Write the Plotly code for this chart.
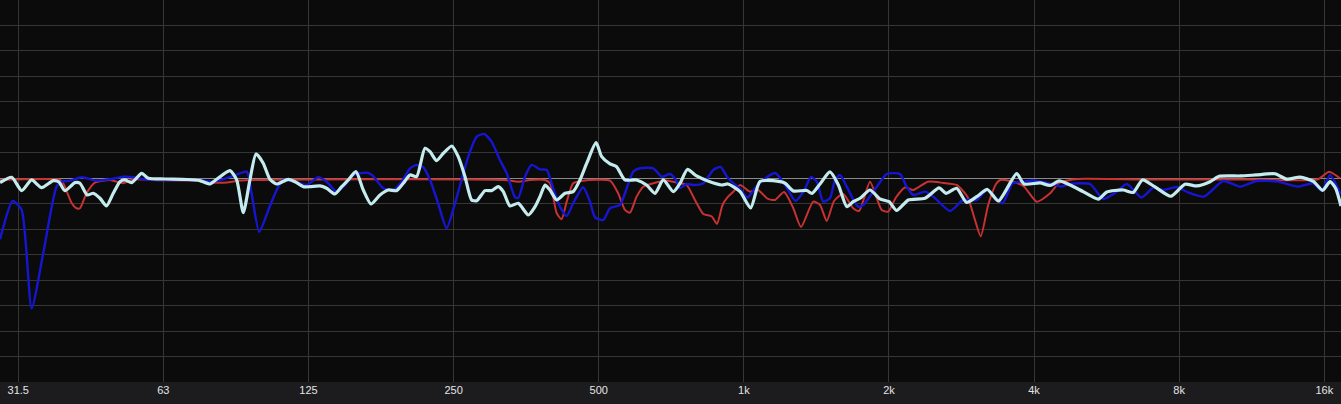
import plotly.graph_objects as go
import math

# ---- axis ticks ----
TICK_FREQS = [31.25, 62.5, 125, 250, 500, 1000, 2000, 4000, 8000, 16000]
TICK_LABELS = ["31.5", "63", "125", "250", "500", "1k", "2k", "4k", "8k", "16k"]

# ---- red series ----
RED_FREQ = [28.65, 38.14, 38.74, 40.33, 41.28, 41.96, 43.30, 45.06, 48.43, 51.60, 54.13, 58.63,
            74.41, 79.25, 84.68, 90.09, 319.6, 340.5, 360.0, 386.9, 396.1, 409.1, 418.8, 429.1,
            442.5, 464.2, 527.7, 548.6, 566.8, 580.6, 599.2, 618.6, 648.9, 691.5, 725.4, 760.9,
            791.9, 824.0, 857.9, 879.4, 903.3, 926.6, 951.0, 982.2, 1030, 1070, 1122, 1161,
            1212, 1266, 1314, 1393, 1439, 1486, 1539, 1607, 1686, 1734, 1827, 1887, 1932, 1993,
            2068, 2159, 2247, 2409, 2593, 2764, 2910, 3017, 3101, 3213, 3335, 3401, 3567, 3801,
            4052, 4318, 4508, 4751, 5058, 6960, 11226, 15523, 16371, 17249]
RED_DB = [-0.33, -0.33, -0.98, -4.85, -5.89, -5.89, -2.95, -0.86, -0.33, -0.98, -0.20, -0.33,
          -0.47, -0.82, -0.82, -0.43, -0.33, -0.67, -0.33, -0.33, -0.98, -6.87, -8.05, -4.59,
          -0.98, -0.47, -0.47, -2.95, -6.22, -6.75, -3.61, -1.65, -0.98, -0.43, -0.86, -1.32,
          -4.26, -7.01, -7.50, -8.96, -5.24, -3.67, -2.63, -1.32, -2.63, -2.30, -4.06, -4.26,
          -2.69, -5.83, -9.56, -4.59, -5.24, -8.38, -4.46, -3.08, -5.89, -6.42, -0.67, -3.93,
          -6.22, -6.56, -3.77, -1.81, -2.30, -0.67, -0.92, -1.32, -3.61, -8.19, -11.39, -5.24,
          -1.12, -0.33, -0.53, -1.51, -4.59, -2.95, -0.92, -0.33, -0.10, -0.24, -0.24, -0.20,
          1.30, 0.0]

# ---- blue series ----
BLUE_FREQ = [28.65, 30.43, 31.76, 33.31, 35.21, 37.52, 38.45, 40.01, 42.30, 45.42, 48.43, 51.60,
             54.13, 56.78, 64.48, 74.41, 79.25, 87.19, 93.05, 95.24, 98.80, 103.97, 107.4, 110.7,
             117.2, 123.9, 131.0, 136.3, 142.9, 148.8, 154.8, 165.0, 169.3, 178.7, 187.4, 195.1,
             203.0, 209.5, 216.0, 223.4, 232.2, 241.8, 251.7, 261.9, 270.3, 279.2, 289.1, 299.7,
             311.9, 322.2, 335.2, 340.5, 351.6, 362.9, 377.7, 390.0, 402.2, 415.5, 429.1, 442.5,
             464.2, 479.6, 491.3, 511.0, 527.7, 553.6, 566.8, 589.8, 609.1, 648.9, 675.6, 702.9,
             723.0, 737.4, 760.9, 785.6, 824.0, 864.3, 894.8, 926.6, 982.2, 1018, 1055, 1097,
             1161, 1215, 1280, 1333, 1378, 1417, 1461, 1509, 1546, 1583, 1635, 1726, 1769, 1887,
             1979, 2109, 2176, 2247, 2376, 2472, 2678, 2853, 3041, 3194, 3441, 3610, 3801, 3987,
             4282, 4564, 4751, 5225, 5565, 5891, 6229, 6682, 7067, 7413, 7909, 8348, 9009, 9879,
             10702, 11585, 12822, 14109, 15188, 15811, 16445, 17290]
BLUE_DB = [-11.98, -4.46, -6.22, -25.53, -14.73, -1.65, -0.67, -0.47, 0.20, -0.47, -0.20, 0.31,
           0.20, -0.20, -0.33, -0.39, -0.67, 0.45, 1.30, -2.95, -10.49, -5.44, -2.30, -0.33,
           -0.67, -1.32, 0.20, -0.67, -2.63, -1.32, 0.65, 1.10, 0.65, -1.96, -2.30, -0.67,
           1.96, 2.61, 2.22, -0.33, -4.91, -9.82, -4.91, 0.98, 5.22, 8.17, 8.70, 7.19,
           3.59, 0.98, -3.73, -3.87, 0.31, 2.61, 1.73, 1.63, -1.96, -5.58, -7.40, -4.91,
           -1.77, -4.59, -7.66, -8.19, -5.89, -5.24, -2.95, 1.30, 1.96, 1.96, 0.31, 0.84,
           -0.33, -1.90, -1.12, -1.32, -0.98, 1.63, 2.22, 0.06, -2.10, -3.77, -1.96, -0.33,
           1.04, -1.12, -4.46, -2.49, 0.26, -0.67, -4.59, -3.93, -0.33, 0.65, -1.65, -5.58, -5.24, -1.65,
           0.84, 0.84, -1.65, -3.28, -2.63, -3.61, -6.42, -4.26, -4.26, -2.30, -4.91, -0.98, -0.67, -0.43,
           -0.98, -1.61, -1.12, -1.12, -4.06, -2.89, -1.12, -3.77, -1.90, -2.30, -1.71, -2.79, -3.61, -0.53,
           -1.65, -0.53, -0.67, -1.65, -0.98, -2.49, 0.65, -3.08]

# ---- light cyan series ----
CYAN_FREQ = [28.65, 30.29, 31.76, 33.31, 34.94, 36.93, 37.96, 39.05, 40.96, 41.96, 43.42, 44.71,
             46.17, 47.64, 49.19, 50.80, 52.01, 53.72, 56.35, 58.16, 62.98, 69.96, 74.41, 78.06,
             80.63, 85.88, 88.70, 91.56, 94.50, 97.28, 100.7, 103.97, 107.4, 113.5, 117.2, 121.96,
             125.9, 132.1, 136.3, 141.8, 146.5, 151.2, 156.8, 162.4, 168.5, 175.9, 183.0, 190.4,
             196.6, 203.0, 209.5, 218.0, 223.4, 230.5, 238.0, 247.8, 255.6, 264.0, 272.4, 279.2,
             290.5, 299.7, 309.5, 317.0, 327.2, 340.5, 357.2, 368.9, 377.7, 386.9, 396.1, 409.1,
             425.7, 442.5, 457.2, 472.2, 493.7, 507.2, 527.7, 544.5, 566.8, 599.2, 628.5, 654.1,
             680.7, 714.0, 737.4, 763.7, 798.1, 842.2, 899.9, 926.6, 982.2, 1033, 1080, 1150,
             1218, 1266, 1351, 1384, 1439, 1509, 1571, 1635, 1686, 1742, 1827, 1916, 2001, 2075,
             2194, 2376, 2541, 2626, 2764, 2899, 3041, 3201, 3374, 3681, 3813, 4116, 4318, 4508,
             4751, 5058, 5438, 5661, 6123, 6423, 6713, 7131, 7687, 8226, 8697, 9273, 9681, 10702,
             11547, 12646, 13370, 14255, 15188, 15872, 16445, 16887, 17330]
CYAN_DB = [-0.86, 0.20, -2.43, -0.33, -1.85, -0.47, -0.73, -2.43, -0.86, -0.98, -3.28, -2.95,
           -3.93, -5.44, -2.95, -0.67, -0.33, -0.86, 0.98, 0.0, -0.14, -0.24, -0.47, -1.12,
           -0.20, 1.49, -0.33, -6.75, -0.33, 4.77, 2.95, -0.20, -1.12, -0.20, -0.67, -1.65,
           -1.65, -1.51, -1.96, -3.08, -1.65, -0.33, 1.30, -2.30, -5.05, -3.28, -2.30, -2.43,
           -0.98, 0.65, 0.31, 5.89, 5.22, 3.46, 4.91, 6.34, 4.24, 0.31, -4.26, -4.40,
           -2.43, -2.43, -1.65, -2.63, -5.44, -4.91, -7.21, -5.58, -3.61, -1.32, -2.30, -4.26,
           -2.95, -2.63, -0.33, 2.95, 6.99, 4.24, 2.81, 2.28, -0.33, -0.33, -1.32, -2.95,
           -0.33, -2.63, -0.98, 1.73, 0.45, -0.53, -1.32, -1.12, -2.63, -5.83, -0.63, -0.47,
           -0.98, -2.49, -2.40, -2.98, -1.12, 1.24, -1.32, -5.58, -4.59, -3.93, -2.30, -4.06, -4.59, -6.32,
           -4.26, -3.93, -1.90, -2.95, -1.96, -4.75, -3.61, -2.20, -4.46, 0.90, -1.12, -0.92, -1.41, -0.53,
           -1.32, -2.63, -4.10, -2.69, -2.30, -2.79, -0.33, -1.71, -3.53, -1.16, -1.51, -0.67, 0.39, 0.45,
           0.65, 0.88, -0.18, 0.22, -0.63, -2.36, -0.67, -1.96, -5.44]

X_RANGE = [28.64, 17330]
Y_RANGE = [-40, 35]

fig = go.Figure()
fig.add_trace(go.Scatter(x=RED_FREQ, y=RED_DB, mode="lines", name="red",
                         line=dict(color="#c83232", width=2.0, shape="spline", smoothing=0.6)))
fig.add_trace(go.Scatter(x=BLUE_FREQ, y=BLUE_DB, mode="lines", name="blue",
                         line=dict(color="#1616d2", width=2.4, shape="spline", smoothing=0.6)))
fig.add_trace(go.Scatter(x=CYAN_FREQ, y=CYAN_DB, mode="lines", name="cyan",
                         line=dict(color="#c4ecee", width=3.2, shape="spline", smoothing=0.6)))

fig.update_layout(
    width=1341, height=404,
    margin=dict(l=0, r=0, t=0, b=22, pad=0),
    paper_bgcolor="#1c1c1f",
    plot_bgcolor="#0b0b0b",
    showlegend=False,
    hovermode=False,
    xaxis=dict(
        type="log",
        range=[math.log10(X_RANGE[0]), math.log10(X_RANGE[1])],
        tickmode="array", tickvals=TICK_FREQS, ticktext=TICK_LABELS,
        showgrid=True, gridcolor="#363636", gridwidth=1,
        zeroline=False, showline=False, ticks="",
        tickfont=dict(family="Liberation Sans, Arial, sans-serif", size=11, color="#e4e4e4"),
        fixedrange=True,
    ),
    yaxis=dict(
        range=Y_RANGE, dtick=5, tick0=0,
        showgrid=True, gridcolor="#363636", gridwidth=1,
        zeroline=True, zerolinecolor="#8a8a8a", zerolinewidth=1,
        showticklabels=False, ticks="", showline=False,
        fixedrange=True,
    ),
)

fig.write_html("out.html", config={"displayModeBar": False, "responsive": False},
               post_script="document.body.style.margin='0';document.body.style.overflow='hidden';")
